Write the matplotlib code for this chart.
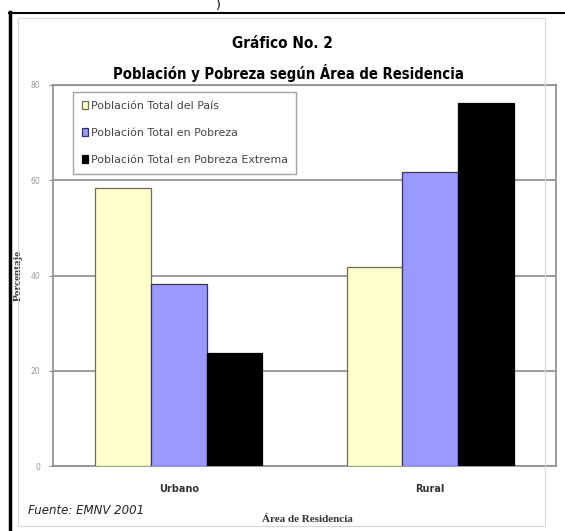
import matplotlib
matplotlib.use("Agg")
import matplotlib.pyplot as plt
import numpy as np
from matplotlib.patches import Rectangle
from matplotlib import font_manager as fm

categories = ["Urbano", "Rural"]
series_names = ["Población Total del País", "Población Total en Pobreza",
                "Población Total en Pobreza Extrema"]
total_pais = [58.3, 41.7]
total_pobreza = [38.2, 61.8]
pobreza_extrema = [23.7, 76.3]
y_ticks = [0, 20, 40, 60, 80]
y_tick_labels = ["0", "20", "40", "60", "80"]

colors = ["#FFFFCC", "#9999FF", "#000000"]
edgecolors = ["#6E6E50", "#333366", "#000000"]

W, H = 565, 531
fig = plt.figure(figsize=(W / 100, H / 100), dpi=100)

def fx(px):
    return px / W

def fy(py):
    return 1 - py / H

cond = [f for f in fm.fontManager.ttflist if "Condensed" in f.fname and "Bold" in f.fname
        and "DejaVuSans" in f.fname and "Oblique" not in f.fname]
title_font = dict(family="DejaVu Sans", fontweight="bold", fontstretch="condensed")
if cond:
    title_font = dict(fontproperties=fm.FontProperties(fname=cond[0].fname))

fig.add_artist(plt.Line2D([fx(10), fx(10)], [fy(531), fy(12)], transform=fig.transFigure, color="black", lw=2.5))
fig.add_artist(plt.Line2D([fx(9), fx(565)], [fy(12.5), fy(12.5)], transform=fig.transFigure, color="black", lw=1.5))
fig.patches.append(Rectangle((fx(18), fy(526)), fx(545 - 18), (526 - 18) / H,
                             transform=fig.transFigure, fill=False, ec="#D8D8D8", lw=0.8))

ax = fig.add_axes([fx(53), fy(466), fx(556 - 53), (466 - 85) / H])
x = np.arange(len(categories))
bw = 0.222
data = [total_pais, total_pobreza, pobreza_extrema]
for i, (vals, name) in enumerate(zip(data, series_names)):
    ax.bar(x + (i - 1) * bw, vals, width=bw, color=colors[i], edgecolor=edgecolors[i],
           lw=0.9, label=name, zorder=3)

ax.set_xlim(-0.5, 1.5)
ax.set_ylim(0, 80)
ax.set_yticks(y_ticks)
ax.set_yticklabels(y_tick_labels, fontsize=5.5, color="#999999")
ax.yaxis.grid(True, color="#8C8C8C", lw=1.2, zorder=0)
ax.set_xticks(x)
ax.set_xticklabels(categories, fontsize=7, fontweight="bold", color="#333333")
ax.tick_params(axis="x", length=0, pad=13)
ax.tick_params(axis="y", length=3, color="#8C8C8C", pad=6)
for s in ax.spines.values():
    s.set_color("#8C8C8C")
    s.set_linewidth(1.2)

ax.set_ylabel("Porcentaje", family="Liberation Serif", fontsize=8, fontweight="bold", color="#333333")
ax.yaxis.set_label_coords((23 - 53) / 503, 0.5)

leg = ax.legend(loc="upper left", bbox_to_anchor=(fx(73), fy(92)), bbox_transform=fig.transFigure,
                borderaxespad=0, fontsize=7.9, frameon=True, fancybox=False, edgecolor="#8C8C8C",
                handlelength=0.6, handleheight=0.8, handletextpad=0.2, labelspacing=1.55,
                borderpad=0.8)
leg.get_frame().set_linewidth(1.0)
for t in leg.get_texts():
    t.set_color("#444444")

fig.text(0.5, fy(43), "Gráfico No. 2", ha="center", va="center", fontsize=11, **title_font)
fig.text(0.51, fy(73), "Población y Pobreza según Área de Residencia", ha="center", va="center",
         fontsize=10.6, **title_font)
fig.text(fx(218), fy(5), ")", ha="center", va="center", fontsize=9)
fig.text(fx(28), fy(510), "Fuente: EMNV 2001", ha="left", va="center", fontsize=8.5,
         style="italic", color="#222222")
fig.text(fx(307), fy(520), "Área de Residencia", ha="center", va="center", fontsize=8,
         family="Liberation Serif", fontweight="bold", color="#333333")

fig.savefig("out.png", dpi=100)
